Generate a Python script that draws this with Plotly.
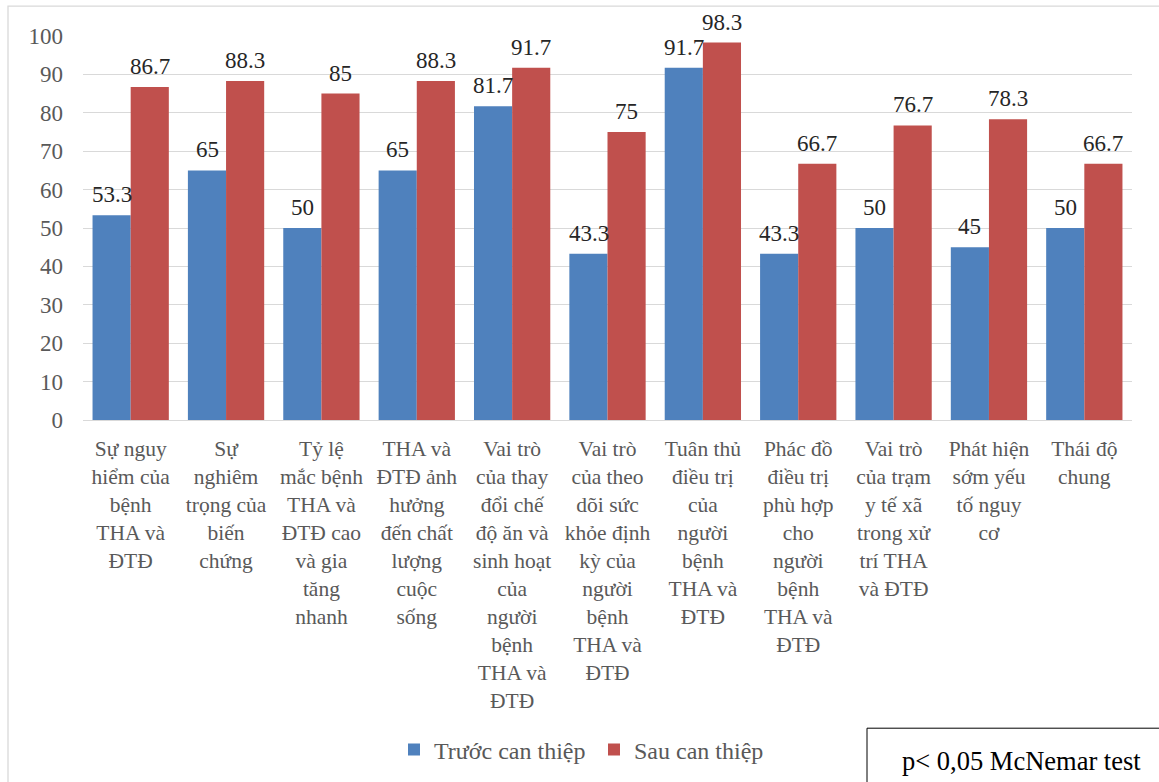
import plotly.graph_objects as go

categories = [
    "Sự nguy<br>hiểm của<br>bệnh<br>THA và<br>ĐTĐ",
    "Sự<br>nghiêm<br>trọng của<br>biến<br>chứng",
    "Tỷ lệ<br>mắc bệnh<br>THA và<br>ĐTĐ cao<br>và gia<br>tăng<br>nhanh",
    "THA và<br>ĐTĐ ảnh<br>hưởng<br>đến chất<br>lượng<br>cuộc<br>sống",
    "Vai trò<br>của thay<br>đổi chế<br>độ ăn và<br>sinh hoạt<br>của<br>người<br>bệnh<br>THA và<br>ĐTĐ",
    "Vai trò<br>của theo<br>dõi sức<br>khỏe định<br>kỳ của<br>người<br>bệnh<br>THA và<br>ĐTĐ",
    "Tuân thủ<br>điều trị<br>của<br>người<br>bệnh<br>THA và<br>ĐTĐ",
    "Phác đồ<br>điều trị<br>phù hợp<br>cho<br>người<br>bệnh<br>THA và<br>ĐTĐ",
    "Vai trò<br>của trạm<br>y tế xã<br>trong xử<br>trí THA<br>và ĐTĐ",
    "Phát hiện<br>sớm yếu<br>tố nguy<br>cơ",
    "Thái độ<br>chung",
]
truoc = [53.3, 65, 50, 65, 81.7, 43.3, 91.7, 43.3, 50, 45, 50]
sau = [86.7, 88.3, 85, 88.3, 91.7, 75, 98.3, 66.7, 76.7, 78.3, 66.7]
y_ticks = [0, 10, 20, 30, 40, 50, 60, 70, 80, 90, 100]

FONT = "Liberation Serif"
GREY = "#595959"
BLUE = "#4F81BD"
RED = "#C0504D"

fig = go.Figure()
fig.add_trace(go.Bar(name="Trước can thiệp", x=categories, y=truoc,
                     marker=dict(color=BLUE, line=dict(width=0))))
fig.add_trace(go.Bar(name="Sau can thiệp", x=categories, y=sau,
                     marker=dict(color=RED, line=dict(width=0))))

# value labels above each bar (blue bars left of centre, red bars right)
for series, shift in ((truoc, -19), (sau, 19)):
    for cat, v in zip(categories, series):
        fig.add_annotation(x=cat, y=v, xref="x", yref="y", text=f"{v:g}",
                           showarrow=False, xshift=shift, yshift=6,
                           yanchor="bottom", xanchor="center",
                           font=dict(family=FONT, size=23, color="#262626"))

fig.update_layout(
    width=1159, height=782,
    margin=dict(l=83, r=27, t=36, b=361),
    paper_bgcolor="white", plot_bgcolor="white",
    barmode="group", bargap=0.2, bargroupgap=0,
    font=dict(family=FONT, size=22, color=GREY),
    showlegend=True,
    legend=dict(
        orientation="h", x=(394 - 83) / 1049, xanchor="left",
        y=-(750 - 421) / 385, yanchor="middle",
        font=dict(family=FONT, size=24, color=GREY),
        itemwidth=30, tracegroupgap=0,
        entrywidth=155, entrywidthmode="pixels",
    ),
)
fig.update_yaxes(
    range=[0, 100], tickvals=y_ticks, showgrid=True, gridcolor="#D9D9D9",
    gridwidth=1.3, zeroline=False, showline=False, ticks="",
    ticklabelstandoff=19, tickfont=dict(family=FONT, size=23, color=GREY),
)
fig.update_xaxes(
    showline=True, linecolor="#D9D9D9", linewidth=1.3, ticks="",
    tickangle=0, tickfont=dict(family=FONT, size=21.5, color=GREY),
    ticklabelstandoff=9,
)

# outer chart border
fig.add_shape(type="rect", xref="paper", yref="paper",
              x0=-75 / 1049, x1=1.1, y0=-1.2, y1=1 + 30 / 385,
              line=dict(color="#D9D9D9", width=1.3), layer="below")
# box with the test result
fig.add_shape(type="rect", xref="paper", yref="paper",
              x0=(867 - 83) / 1049, x1=1.1,
              y0=-(785 - 421) / 385, y1=-(730 - 421) / 385,
              line=dict(color="#000000", width=1))
fig.add_annotation(xref="paper", yref="paper",
                   x=(1021 - 83) / 1049, y=-(763 - 421) / 385,
                   text="p< 0,05 McNemar test", showarrow=False,
                   font=dict(family=FONT, size=26.5, color="#000000"),
                   xanchor="center", yanchor="middle")

fig.write_html("out.html")
